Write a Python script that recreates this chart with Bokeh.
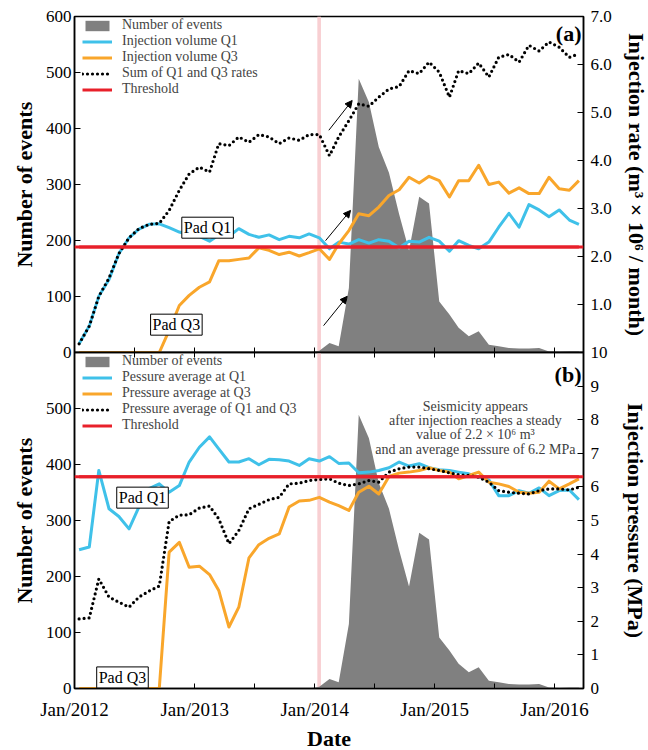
import pandas as pd
from bokeh.plotting import figure
from bokeh.layouts import column
from bokeh.models import (Range1d, LinearAxis, DatetimeAxis, FixedTicker, DatetimeTickFormatter,
                          PrintfTickFormatter, Label, Arrow, NormalHead, Span, BoxAnnotation,
                          Legend, LegendItem, ColumnDataSource)
from bokeh.embed import file_html
from bokeh.resources import INLINE

# ---------------- data (monthly, Jan 2012 .. Mar 2016) ----------------
months = pd.date_range("2012-01-01", periods=51, freq="MS") + pd.Timedelta(days=14)

events = [0, 0, 0, 0, 0, 0, 0, 0, 0, 0, 0, 0, 0, 0, 0, 0, 0, 0, 0, 0, 0, 0, 0, 0, 3,
          17, 11, 115, 489, 447, 367, 321, 247, 182, 278, 266, 91, 68, 44, 29, 38,
          14, 11, 8, 7, 7, 8, 2, 1, 2, 2]

q1_rate = [0.18, 0.55, 1.17, 1.52, 2.06, 2.39, 2.57, 2.67, 2.68, 2.60, 2.51, 2.45, 2.42,
           2.32, 2.45, 2.42, 2.58, 2.46, 2.40, 2.45, 2.35, 2.42, 2.39, 2.47, 2.39, 2.16,
           2.30, 2.26, 2.35, 2.28, 2.35, 2.32, 2.18, 2.32, 2.30, 2.40, 2.32, 2.11, 2.33,
           2.23, 2.16, 2.30, 2.61, 2.90, 2.61, 3.08, 2.97, 2.83, 2.97, 2.76, 2.67]

q3_rate = [0, 0, 0, 0, 0, 0, 0, 0, 0, 0.46, 0.98, 1.19, 1.36, 1.47, 1.91, 1.91, 1.94,
           1.97, 2.18, 2.13, 2.04, 2.09, 2.01, 2.08, 2.16, 1.94, 2.26, 2.54, 2.89, 2.85,
           3.03, 3.27, 3.39, 3.65, 3.53, 3.67, 3.58, 3.24, 3.58, 3.58, 3.90, 3.50, 3.55,
           3.32, 3.43, 3.31, 3.31, 3.65, 3.41, 3.38, 3.58]

sum_rate = [0.18, 0.55, 1.17, 1.55, 2.06, 2.39, 2.58, 2.67, 2.69, 2.96, 3.38, 3.72, 3.86,
            3.76, 4.35, 4.31, 4.49, 4.38, 4.54, 4.49, 4.35, 4.47, 4.42, 4.54, 4.54, 4.10,
            4.49, 4.83, 5.18, 5.13, 5.32, 5.49, 5.54, 5.87, 5.81, 6.05, 5.84, 5.32, 5.87,
            5.81, 6.03, 5.74, 6.15, 6.21, 6.05, 6.40, 6.28, 6.47, 6.36, 6.15, 6.22]

q1_press = [4.13, 4.21, 6.49, 5.35, 5.12, 4.75, 5.40, 5.95, 6.09, 5.84, 6.04, 6.74, 7.18,
            7.49, 7.13, 6.74, 6.74, 6.84, 6.66, 6.82, 6.81, 6.77, 6.64, 6.84, 6.77, 6.90,
            6.70, 6.71, 6.42, 6.44, 6.49, 6.57, 6.74, 6.62, 6.69, 6.57, 6.51, 6.49, 6.44,
            6.39, 6.29, 6.21, 5.74, 5.74, 5.89, 5.81, 5.97, 5.74, 5.89, 5.91, 5.62]

q3_press = [0, 0, 0, 0, 0, 0, 0, 0, 0, 4.06, 4.35, 3.61, 3.64, 3.39, 2.92, 1.83, 2.42,
            3.89, 4.28, 4.47, 4.60, 5.40, 5.58, 5.60, 5.69, 5.55, 5.44, 5.30, 5.84, 6.02,
            5.79, 6.31, 6.41, 6.44, 6.49, 6.57, 6.49, 6.44, 6.24, 6.34, 6.44, 6.14, 6.09,
            6.01, 5.84, 5.81, 5.84, 6.17, 5.94, 6.09, 6.24]

avg_press = [2.07, 2.10, 3.26, 2.72, 2.57, 2.42, 2.72, 2.90, 3.05, 4.97, 5.16, 5.17, 5.37,
             5.43, 5.05, 4.31, 4.70, 5.35, 5.48, 5.62, 5.69, 6.09, 6.11, 6.19, 6.22, 6.24,
             6.11, 6.04, 6.09, 6.19, 6.14, 6.44, 6.54, 6.59, 6.59, 6.54, 6.49, 6.42, 6.36,
             6.34, 6.29, 6.14, 5.89, 5.84, 5.81, 5.79, 5.89, 5.94, 5.94, 5.91, 5.99]

rate_threshold = 2.2
press_threshold = 6.3
seismic_onset = ("2014-01-09", "2014-01-20")

legend_a = ["Number of events", "Injection volume Q1", "Injection volume Q3",
            "Sum of Q1 and Q3 rates", "Threshold"]
legend_b = ["Number of events", "Pessure average at Q1", "Pressure average at Q3",
            "Pressure average of Q1 and Q3", "Threshold"]

events_ticks_a = [0, 100, 200, 300, 400, 500, 600]
events_ticks_b = [0, 100, 200, 300, 400, 500]
rate_ticks = [1, 2, 3, 4, 5, 6, 7]
press_ticks = list(range(0, 11))

# annotation arrows (panel a), in date / injection-rate units
arrow_tail_dates = ["2014-01-28", "2014-02-03", "2014-02-13"]
arrow_head_dates = ["2014-04-10", "2014-04-20", "2014-04-25"]
arrow_tail_vals = [0.56, 2.33, 4.63]
arrow_head_vals = [1.17, 2.96, 5.25]

note_b = ("Seismicity appears\nafter injection reaches a steady\n"
          "value of 2.2 \u00d7 10\u2076 m\u00b3\nand an average pressure of 6.2 MPa")

# ---------------- styling ----------------
FONT = "Liberation Serif"
BLUE = "#3fc1e9"
ORANGE = "#f9a62b"
RED = "#e8202a"
GRAY = "#808080"
PINK = "#f8cfd2"


def ms(s):
    return pd.Timestamp(s).value / 1e6


x_start, x_end = ms("2012-01-01"), ms("2016-03-29")
jan_ticks = [ms(f"{y}-01-01") for y in range(2012, 2017)]
jul_ticks = [ms(f"{y}-07-01") for y in range(2012, 2016)]

src = ColumnDataSource(dict(date=months, events=events, q1r=q1_rate, q3r=q3_rate,
                            sr=sum_rate, q1p=q1_press, q3p=q3_press, ap=avg_press,
                            thr_r=[rate_threshold] * len(events),
                            thr_p=[press_threshold] * len(events)))
xr = Range1d(x_start, x_end)


def style_axis(ax, tick_font="17px"):
    ax.major_label_text_font = FONT
    ax.major_label_text_font_size = tick_font
    ax.major_label_text_color = "black"
    ax.axis_label_text_font = FONT
    ax.axis_label_text_font_size = "22px"
    ax.axis_label_text_font_style = "bold"
    ax.axis_label_text_color = "black"
    ax.axis_line_color = "black"
    ax.axis_line_width = 1.5
    ax.major_tick_line_color = "black"
    ax.minor_tick_line_color = "black"
    ax.major_tick_in = 6
    ax.major_tick_out = 0
    ax.minor_tick_in = 0
    ax.minor_tick_out = 0


def make_panel(top):
    p = figure(x_axis_type="datetime", x_range=xr, y_range=Range1d(0, 600),
               frame_width=509, frame_height=336,
               min_border_left=74, min_border_right=62,
               min_border_top=16 if top else 12, min_border_bottom=12 if top else 0,
               output_backend="svg", toolbar_location=None)
    p.xgrid.visible = False
    p.ygrid.visible = False
    p.outline_line_color = "black"
    p.outline_line_width = 1.5
    p.background_fill_color = "white"
    ya = p.yaxis[0]
    style_axis(ya)
    ya.ticker = FixedTicker(ticks=events_ticks_a if top else events_ticks_b)
    ya.axis_label = "Number of events"
    ya.major_label_standoff = 3
    ya.axis_label_standoff = 6
    xa = p.xaxis[0]
    style_axis(xa, "19px")
    xa.major_tick_in = 5
    xa.minor_tick_in = 5
    fmt = "%b/%Y"
    xa.formatter = DatetimeTickFormatter(days=fmt, months=fmt, years=fmt)
    p.add_layout(BoxAnnotation(left=ms(seismic_onset[0]), right=ms(seismic_onset[1]),
                               fill_color=PINK, fill_alpha=1.0, line_color=None,
                               level="underlay"))
    return p


# ---------------- panel (a) ----------------
pa = make_panel(True)
# shared boundary with panel (b): tick marks only, no labels
pa.xaxis[0].ticker = FixedTicker(ticks=[], minor_ticks=jan_ticks + jul_ticks)
pa.xaxis[0].major_label_standoff = 0
pa.extra_y_ranges = {"r": Range1d(0, 7)}
ra = LinearAxis(y_range_name="r", ticker=FixedTicker(ticks=rate_ticks),
                formatter=PrintfTickFormatter(format="%.1f"),
                axis_label="Injection rate (m\u00b3 \u00d7 10\u2076 / month)")
style_axis(ra)
ra.major_label_standoff = 7
ra.axis_label_standoff = 9
pa.add_layout(ra, "right")

a_ev = pa.varea(x="date", y1=0, y2="events", source=src, fill_color=GRAY)
a_q1 = pa.line("date", "q1r", source=src, y_range_name="r", line_color=BLUE,
               line_width=3, line_join="round")
a_q3 = pa.line("date", "q3r", source=src, y_range_name="r", line_color=ORANGE,
               line_width=3, line_join="round")
a_s = pa.line("date", "sr", source=src, y_range_name="r", line_color="black",
              line_width=3.2, line_dash="0 5", line_cap="round")
a_thr = pa.line("date", "thr_r", source=src, y_range_name="r", line_color=RED, line_width=3)
pa.add_layout(Span(location=rate_threshold, dimension="width", y_range_name="r",
                   line_color=RED, line_width=3))

for td, hd, tv, hv in zip(arrow_tail_dates, arrow_head_dates, arrow_tail_vals, arrow_head_vals):
    pa.add_layout(Arrow(x_start=ms(td), y_start=tv, x_end=ms(hd), y_end=hv,
                        y_range_name="r", line_width=1, line_color="black",
                        end=NormalHead(size=7, fill_color="black", line_color="black")))

# ---------------- panel (b) ----------------
pb = make_panel(False)
pb.border_fill_color = None
pb.margin = (-24, 0, 0, 0)
pb.xaxis[0].ticker = FixedTicker(ticks=jan_ticks, minor_ticks=jul_ticks)
pb.xaxis[0].axis_label = "Date"
pb.xaxis[0].major_label_standoff = 10
pb.xaxis[0].axis_label_standoff = 3
top_ax = DatetimeAxis(ticker=FixedTicker(ticks=[], minor_ticks=jan_ticks + jul_ticks))
style_axis(top_ax)
top_ax.minor_tick_in = 5
top_ax.major_label_standoff = 0
pb.add_layout(top_ax, "above")

pb.extra_y_ranges = {"p": Range1d(0, 10)}
rb = LinearAxis(y_range_name="p", ticker=FixedTicker(ticks=press_ticks),
                axis_label="Injection pressure (MPa)")
style_axis(rb)
rb.major_label_standoff = 7
rb.axis_label_standoff = 12
pb.add_layout(rb, "right")

b_ev = pb.varea(x="date", y1=0, y2="events", source=src, fill_color=GRAY)
b_q1 = pb.line("date", "q1p", source=src, y_range_name="p", line_color=BLUE,
               line_width=3, line_join="round")
b_q3 = pb.line("date", "q3p", source=src, y_range_name="p", line_color=ORANGE,
               line_width=3, line_join="round")
b_a = pb.line("date", "ap", source=src, y_range_name="p", line_color="black",
              line_width=3.2, line_dash="0 5", line_cap="round")
b_thr = pb.line("date", "thr_p", source=src, y_range_name="p", line_color=RED, line_width=3)
pb.add_layout(Span(location=press_threshold, dimension="width", y_range_name="p",
                   line_color=RED, line_width=3))

# ---------------- legends ----------------
def add_legend(p, labels, rends):
    lg = Legend(items=[LegendItem(label=l, renderers=[r]) for l, r in zip(labels, rends)],
                location=(8, 255), padding=0, margin=0, spacing=-2,
                label_text_font=FONT, label_text_font_size="14px",
                label_height=13, glyph_height=13, glyph_width=30, label_standoff=10,
                background_fill_alpha=0, border_line_color=None)
    p.add_layout(lg)


add_legend(pa, legend_a, [a_ev, a_q1, a_q3, a_s, a_thr])
add_legend(pb, legend_b, [b_ev, b_q1, b_q3, b_a, b_thr])

# ---------------- text labels ----------------
def pad_label(p, x, y, rng, text):
    p.add_layout(Label(x=ms(x), y=y, y_range_name=rng, text=text, text_align="center",
                       text_baseline="middle", text_font=FONT, text_font_size="16px",
                       text_color="black", background_fill_color="white",
                       border_line_color="black", border_line_width=1, padding=2))


pad_label(pa, "2013-02-09", 2.60, "r", "Pad Q1")
pad_label(pa, "2012-11-06", 0.58, "r", "Pad Q3")
pad_label(pb, "2012-07-26", 5.68, "p", "Pad Q1")
pad_label(pb, "2012-05-26", 0.33, "p", "Pad Q3")

pa.add_layout(Label(x=x_end, y=6.65, y_range_name="r", x_offset=-2, text="(a)",
                    text_align="right", text_baseline="middle", text_font=FONT,
                    text_font_size="22px", text_font_style="bold", text_color="black"))
pb.add_layout(Label(x=x_end, y=9.36, y_range_name="p", x_offset=-2, text="(b)",
                    text_align="right", text_baseline="middle", text_font=FONT,
                    text_font_size="22px", text_font_style="bold", text_color="black"))
pb.add_layout(Label(x=ms("2015-05-05"), y=8.62, y_range_name="p", text=note_b,
                    text_align="center", text_baseline="top", text_font=FONT,
                    text_font_size="14px", text_color="#404040", text_line_height=0.95))

layout = column(pa, pb)
open("out.html", "w").write(file_html(layout, INLINE))
